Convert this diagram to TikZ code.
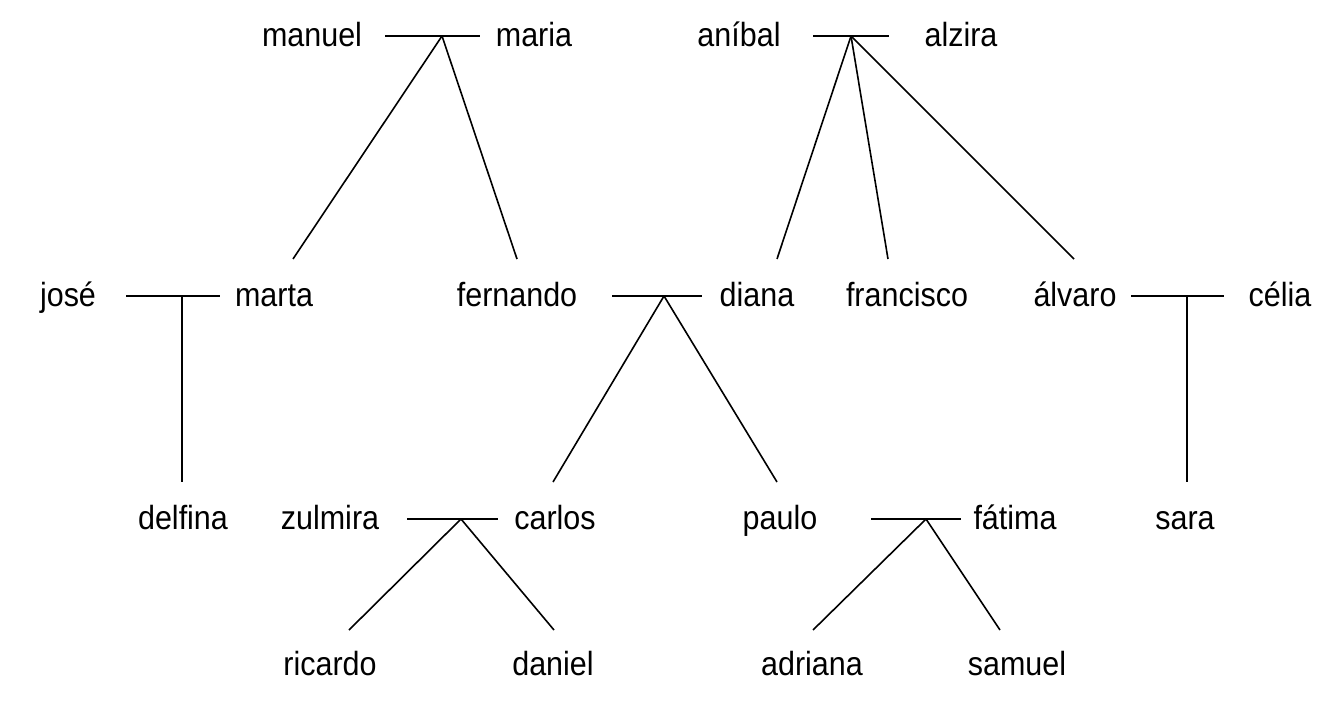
\documentclass[tikz,border=0pt]{standalone}
\usepackage{fontspec}
\setmainfont{Liberation Sans}
\newcommand{\nm}[1]{\scalebox{0.91}[1]{#1}}
\begin{document}
\begin{tikzpicture}[x=1pt,y=-1pt,
  person/.style={anchor=base, inner sep=0pt, font=\fontsize{33.5}{40}\selectfont},
  link/.style={line width=1.6pt, black}]
\useasboundingbox (0,0) rectangle (1340,706);
% row 1
\node[person] (manuel) at (312,47) {\nm{manuel}};
\node[person] (maria) at (534,47) {\nm{maria}};
\node[person] (anibal) at (739,47) {\nm{aníbal}};
\node[person] (alzira) at (961,47) {\nm{alzira}};
% row 2
\node[person] (jose) at (68,306) {\nm{josé}};
\node[person] (marta) at (274,306) {\nm{marta}};
\node[person] (fernando) at (517,306) {\nm{fernando}};
\node[person] (diana) at (757,306) {\nm{diana}};
\node[person] (francisco) at (907,306) {\nm{francisco}};
\node[person] (alvaro) at (1075,306) {\nm{álvaro}};
\node[person] (celia) at (1280,306) {\nm{célia}};
% row 3
\node[person] (delfina) at (183,529) {\nm{delfina}};
\node[person] (zulmira) at (330,529) {\nm{zulmira}};
\node[person] (carlos) at (555,529) {\nm{carlos}};
\node[person] (paulo) at (780,529) {\nm{paulo}};
\node[person] (fatima) at (1015,529) {\nm{fátima}};
\node[person] (sara) at (1185,529) {\nm{sara}};
% row 4
\node[person] (ricardo) at (330,675) {\nm{ricardo}};
\node[person] (daniel) at (553,675) {\nm{daniel}};
\node[person] (adriana) at (812,675) {\nm{adriana}};
\node[person] (samuel) at (1017,675) {\nm{samuel}};

% couple lines and junctions
\coordinate (c1l) at (385,36); \coordinate (c1r) at (480,36); \coordinate (j1) at (442,36);
\coordinate (c2l) at (813,36); \coordinate (c2r) at (889,36); \coordinate (j2) at (851,36);
\coordinate (c3l) at (126,296); \coordinate (c3r) at (220,296); \coordinate (j3) at (182,296);
\coordinate (c4l) at (612,296); \coordinate (c4r) at (702,296); \coordinate (j4) at (664,296);
\coordinate (c5l) at (1131,296); \coordinate (c5r) at (1224,296); \coordinate (j5) at (1187,296);
\coordinate (c6l) at (407,519); \coordinate (c6r) at (498,519); \coordinate (j6) at (461,519);
\coordinate (c7l) at (871,519); \coordinate (c7r) at (961,519); \coordinate (j7) at (926,519);
% child line ends
\coordinate (t-marta) at (293,259);
\coordinate (t-fernando) at (517,259);
\coordinate (t-diana) at (777,259);
\coordinate (t-francisco) at (888,259);
\coordinate (t-alvaro) at (1074,259);
\coordinate (t-delfina) at (182,482);
\coordinate (t-carlos) at (553,482);
\coordinate (t-paulo) at (777,482);
\coordinate (t-sara) at (1187,482);
\coordinate (t-ricardo) at (349,630);
\coordinate (t-daniel) at (554,630);
\coordinate (t-adriana) at (813,630);
\coordinate (t-samuel) at (1000,630);

\draw[link] (c1l) -- (c1r);
\draw[link] (c2l) -- (c2r);
\draw[link] (c3l) -- (c3r);
\draw[link] (c4l) -- (c4r);
\draw[link] (c5l) -- (c5r);
\draw[link] (c6l) -- (c6r);
\draw[link] (c7l) -- (c7r);

\draw[link] (j1) -- (t-marta);
\draw[link] (j1) -- (t-fernando);
\draw[link] (j2) -- (t-diana);
\draw[link] (j2) -- (t-francisco);
\draw[link] (j2) -- (t-alvaro);
\draw[link] (j3) -- (t-delfina);
\draw[link] (j4) -- (t-carlos);
\draw[link] (j4) -- (t-paulo);
\draw[link] (j5) -- (t-sara);
\draw[link] (j6) -- (t-ricardo);
\draw[link] (j6) -- (t-daniel);
\draw[link] (j7) -- (t-adriana);
\draw[link] (j7) -- (t-samuel);
\end{tikzpicture}
\end{document}
